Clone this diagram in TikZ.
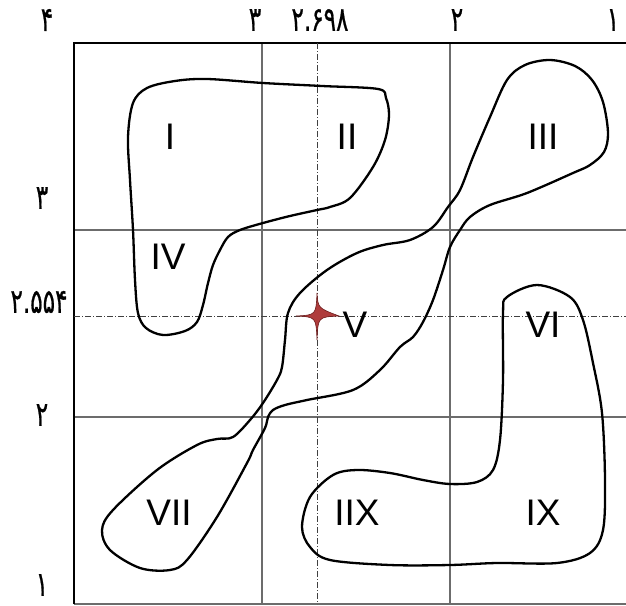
\documentclass[tikz,border=0pt]{standalone}
\usepackage{fontspec}
\setmainfont{Liberation Sans}
\newfontfamily\fadigits[FakeStretch=0.68,FakeBold=0.6]{DejaVu Sans}
\begin{document}
\begin{tikzpicture}[x=1pt,y=-1pt,
  roman/.style={font=\fontsize{37}{40}\selectfont, inner sep=0pt},
  axisnum/.style={font=\fadigits\fontsize{34}{36}\selectfont, inner sep=0pt},
  gridline/.style={draw=gray!85!black, line width=1.1pt},
  refline/.style={draw=black!75, line width=0.7pt, dash pattern=on 6pt off 2pt on 1pt off 2pt},
  blob/.style={draw=black, line width=2.3pt, smooth cycle, tension=0.55}]
\useasboundingbox (0,0) rectangle (626,605);
\fill[white] (0,0) rectangle (626,605);
\clip (0,0) rectangle (626,605);

% grid
\draw[gridline] (262,43) -- (262,604);
\draw[gridline] (450,43) -- (450,604);
\draw[gridline] (74,230) -- (640,230);
\draw[gridline] (74,417) -- (640,417);
\draw[gridline] (74,604) -- (640,604);
\draw[gridline] (638,43) -- (638,604);
\draw[black, line width=2pt] (74,604) -- (74,43) -- (640,43);

% reference lines
\draw[refline] (317,43) -- (317,604);
\draw[refline] (74,316) -- (640,316);

% region I, II, IV
\draw[blob] plot coordinates {
 (133,103) (147,88) (175,81) (207,79) (263,83) (322,86) (378,89) (386,98)
 (389,115) (385,140) (373,167) (350,198) (330,207) (317,210) (290,216)
 (263,223) (240,230) (228,237) (220,250) (213,265) (208,283) (203,305)
 (197,322) (185,331) (163,335) (146,328) (138,313) (135,280) (133,230)
 (130,180) (128,137)};

% region III, V, VII
\draw[blob] plot coordinates {
 (550,60) (575,66) (592,80) (603,102) (608,133) (604,152) (590,165) (573,173)
 (527,193) (490,205) (470,217) (460,230) (450,247) (443,270) (433,300)
 (423,322) (413,337) (400,347) (380,370) (353,390) (307,400) (285,405)
 (273,410) (268,417) (265,428) (253,450) (247,463) (217,517) (187,560)
 (170,570) (140,568) (110,550) (102,530) (113,510) (157,470) (197,445)
 (217,439) (233,437) (250,420) (263,403) (277,380) (282,367) (285,340)
 (288,313) (300,293) (327,270) (357,253) (383,245) (410,240) (433,227)
 (448,207) (460,190) (473,157) (490,117) (507,80) (525,65)};

% region VI, IX, IIX
\draw[blob] plot coordinates {
 (537,285) (507,297) (503,313) (503,380) (500,440) (493,470) (477,482)
 (450,484) (423,480) (390,473) (357,470) (333,475) (310,497) (302,527)
 (310,547) (330,560) (390,565) (450,565) (497,563) (557,563) (590,553)
 (603,530) (605,480) (602,413) (593,363) (583,320) (570,297)};

% star
\filldraw[fill={rgb,255:red,175;green,60;blue,60}, draw={rgb,255:red,110;green,30;blue,30}, line width=0.6pt]
 (317,293) .. controls (318,308) .. (339,316)
 .. controls (318,317) .. (317,340)
 .. controls (316,317) .. (296,316)
 .. controls (316,315) .. (317,293) -- cycle;

% region labels
\node[roman] (rI)    at (170,137) {I};
\node[roman] (rII)   at (347,137) {II};
\node[roman] (rIII)  at (543,137) {III};
\node[roman] (rIV)   at (168,257) {IV};
\node[roman] (rV)    at (355,325) {V};
\node[roman] (rVI)   at (543,325) {VI};
\node[roman] (rVII)  at (169,513) {VII};
\node[roman] (rIIX)  at (357,513) {IIX};
\node[roman] (rIX)   at (543,513) {IX};

% axis numbers top
\node[axisnum] (t4) at (47,20) {۴};
\node[axisnum] (t3) at (255,20) {۳};
\node[axisnum] (tm) at (320,20) {۲.۶۹۸};
\node[axisnum] (t2) at (457,20) {۲};
\node[axisnum] (t1) at (613,20) {۱};
% axis numbers left
\node[axisnum] (l3) at (42,198) {۳};
\node[axisnum] (lm) at (39,302) {۲.۵۵۴};
\node[axisnum] (l2) at (42,415) {۲};
\node[axisnum] (l1) at (42,585) {۱};
\end{tikzpicture}
\end{document}
